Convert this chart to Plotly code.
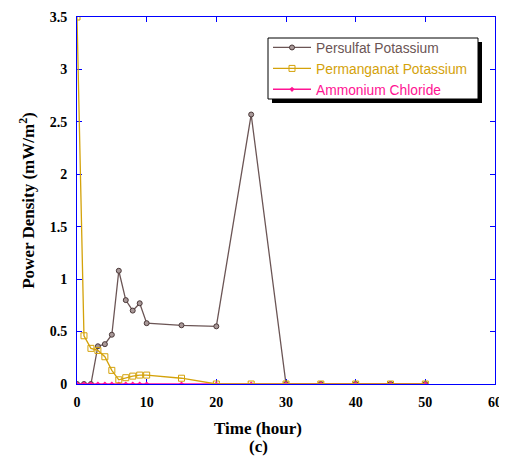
import plotly.graph_objects as go

time = [0, 1, 2, 3, 4, 5, 6, 7, 8, 9, 10, 15, 20, 25, 30, 35, 40, 45, 50]
persulfat = [0, 0, 0, 0.36, 0.38, 0.47, 1.08, 0.80, 0.70, 0.77, 0.58, 0.56, 0.55, 2.57, 0, 0, 0, 0, 0]
permanganat = [3.5, 0.46, 0.34, 0.32, 0.26, 0.13, 0.04, 0.06, 0.075, 0.085, 0.085, 0.055, 0, 0, 0, 0, 0, 0, 0]
ammonium = [0] * len(time)

x_ticks = [0, 10, 20, 30, 40, 50, 60]
y_ticks = [0, 0.5, 1, 1.5, 2, 2.5, 3, 3.5]
y_tick_text = ["0", "0.5", "1", "1.5", "2", "2.5", "3", "3.5"]

C_PER = "#6b5555"
C_MN = "#d4a20a"
C_NH = "#ff1493"

# page body has an 8px default margin: shift everything up/left by 8px
OFF = 8
L, R, T, B = 77 - OFF, 495 - OFF, 17 - OFF, 384 - OFF
W, H = R - L, B - T
FW, FH = 507, 457


def px(xp):
    return (xp - OFF - L) / W


def py(yp):
    return (B - (yp - OFF)) / H


fig = go.Figure()
fig.add_trace(go.Scatter(
    x=time, y=persulfat, name=f"<span style='color:{C_PER}'>Persulfat Potassium</span>",
    mode="lines+markers",
    line=dict(color=C_PER, width=1.3),
    marker=dict(symbol="circle", size=5, color="#a89898", line=dict(color="#4a3838", width=1)),
    legendrank=1,
))
fig.add_trace(go.Scatter(
    x=time, y=ammonium, name=f"<span style='color:{C_NH}'>Ammonium Chloride</span>",
    mode="lines+markers",
    line=dict(color=C_NH, width=1.5),
    marker=dict(symbol="diamond", size=4, color=C_NH),
    legendrank=3,
))
fig.add_trace(go.Scatter(
    x=time, y=permanganat, name=f"<span style='color:{C_MN}'>Permanganat Potassium</span>",
    mode="lines+markers",
    line=dict(color=C_MN, width=1.3),
    marker=dict(symbol="square-open", size=6, color=C_MN, line=dict(width=1)),
    legendrank=2,
))

# legend shadow and box
fig.add_shape(type="rect", xref="paper", yref="paper",
              x0=px(272), x1=px(482), y0=py(103), y1=py(42),
              fillcolor="black", line=dict(width=0), layer="above")
fig.add_shape(type="rect", xref="paper", yref="paper",
              x0=px(268), x1=px(478), y0=py(99), y1=py(38),
              fillcolor="white", line=dict(color="black", width=1), layer="above")

serif = "Liberation Serif, Times New Roman"
fig.update_layout(
    width=FW, height=FH,
    margin=dict(l=L, r=FW - R, t=T, b=FH - B, autoexpand=False),
    paper_bgcolor="white", plot_bgcolor="white",
    showlegend=True,
    legend=dict(x=px(268), y=py(32), xanchor="left", yanchor="top",
                bgcolor="rgba(0,0,0,0)", borderwidth=0,
                font=dict(family="Liberation Sans, Arial", size=13.8),
                tracegroupgap=0, itemwidth=38, traceorder="normal"),
    xaxis=dict(range=[0, 60], tickvals=x_ticks, ticks="inside", ticklen=5, tickcolor="blue",
               showline=True, linecolor="blue", linewidth=1, mirror="ticks",
               showgrid=False, zeroline=False, layer="below traces", automargin=False,
               ticklabelstandoff=5,
               tickfont=dict(family=serif, size=14, color="black", weight="bold"),
               ),
    yaxis=dict(range=[0, 3.5], tickvals=y_ticks, ticktext=y_tick_text, ticks="inside", ticklen=5,
               tickcolor="blue", showline=True, linecolor="blue", linewidth=1, mirror="ticks",
               showgrid=False, zeroline=False, layer="below traces", automargin=False,
               ticklabelstandoff=6,
               tickfont=dict(family=serif, size=14, color="black", weight="bold"),
               title=dict(text="<b>Power Density (mW/m<sup>2</sup>)</b>",
                          font=dict(family=serif, size=17, color="black"),
                          standoff=10),
               ),
    annotations=[
        dict(text="<b>Time (hour)</b>", xref="paper", yref="paper", x=px(258), y=py(428),
             showarrow=False, xanchor="center", yanchor="middle",
             font=dict(family=serif, size=17, color="black")),
        dict(text="<b>(c)</b>", xref="paper", yref="paper", x=px(258), y=py(446),
             showarrow=False, xanchor="center", yanchor="middle",
             font=dict(family=serif, size=17, color="black")),
    ],
)

fig.write_html("out.html")
